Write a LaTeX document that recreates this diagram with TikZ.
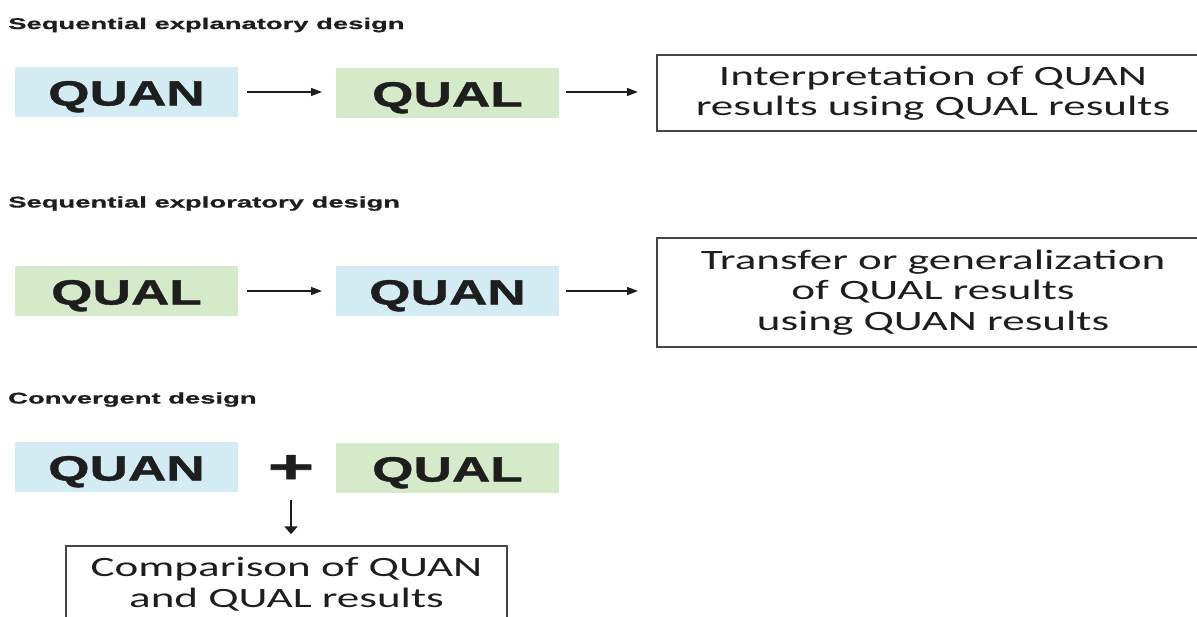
\documentclass[tikz,border=0pt]{standalone}
\usepackage{fontspec}
\setmainfont{Liberation Sans}
% wide faces: headings, phase tags, plus sign and outcome texts
\newfontfamily\headfont{Liberation Sans Bold}[FakeStretch=1.77, FakeBold=0.8]
\newfontfamily\tagfont{Liberation Sans Bold}[FakeStretch=1.52, FakeBold=1.2]
\newfontfamily\plusfont{Liberation Sans Bold}[FakeStretch=1.7, FakeBold=1.2]
\newfontfamily\notefont{Carlito}[FakeStretch=1.61]
\usetikzlibrary{arrows.meta}
\definecolor{quanblue}{HTML}{D3ECF4}
\definecolor{qualgreen}{HTML}{D4EAC8}
\definecolor{inkdark}{HTML}{1E1E1E}
\definecolor{framegray}{HTML}{454545}
\tikzset{
  heading/.style={anchor=base west, inner sep=0pt, font=\headfont\fontsize{15.5}{18}\selectfont, text=inkdark},
  phase/.style={minimum width=223pt, minimum height=50pt, inner sep=0pt, text=inkdark,
    text height=29pt, text depth=2pt,
    font=\tagfont\fontsize{35}{40}\selectfont},
  quan/.style={phase, fill=quanblue},
  qual/.style={phase, fill=qualgreen},
  outcome/.style={draw=framegray, line width=1.4pt, inner sep=0pt, align=center, text=inkdark,
    font=\notefont\fontsize{28}{30.5}\selectfont},
  flow/.style={-{Triangle[length=11pt,width=8pt]}, line width=1.5pt, draw=inkdark},
  drop/.style={-{Triangle[length=8pt,width=13pt]}, line width=2.2pt, draw=inkdark},
  plus/.style={inner sep=0pt, text=inkdark, font=\plusfont\fontsize{47}{47}\selectfont}
}
\begin{document}
\begin{tikzpicture}[x=1pt,y=-1pt]
\useasboundingbox (0,0) rectangle (1197,616);
\clip (0,0) rectangle (1197,616);

% Sequential explanatory design
\node[heading] (h1) at (8,29) {Sequential explanatory design};
\node[quan] (a1) at (126.5,92) {QUAN};
\node[qual] (a2) at (447.5,93) {QUAL};
\node[outcome, minimum width=552pt, minimum height=76pt] (a3) at (933,93)
  {Interpretation of QUAN\\results using QUAL results};
\coordinate (a1e) at (247,92);
\coordinate (a2s) at (322,92);
\coordinate (a2e) at (566,92);
\coordinate (a3s) at (638,92);
\draw[flow] (a1e) -- (a2s);
\draw[flow] (a2e) -- (a3s);

% Sequential exploratory design
\node[heading] (h2) at (8,207.5) {Sequential exploratory design};
\node[qual] (b1) at (126.5,291) {QUAL};
\node[quan] (b2) at (447.5,291) {QUAN};
\node[outcome, minimum width=552pt, minimum height=109pt] (b3) at (933,292.5)
  {Transfer or generalization\\of QUAL results\\using QUAN results};
\coordinate (b1e) at (247,291);
\coordinate (b2s) at (322,291);
\coordinate (b2e) at (566,291);
\coordinate (b3s) at (638,291);
\draw[flow] (b1e) -- (b2s);
\draw[flow] (b2e) -- (b3s);

% Convergent design
\node[heading] (h3) at (8,403.5) {Convergent design};
\node[quan] (c1) at (126.5,467) {QUAN};
\node[qual] (c2) at (447.5,468) {QUAL};
\node[plus] (cp) at (291,469) {+};
\node[outcome, minimum width=441pt, minimum height=76pt] (c3) at (286.5,584)
  {Comparison of QUAN\\and QUAL results};
\coordinate (cps) at (291,500);
\draw[drop, shorten >=11pt] (cps) -- (c3.north -| cps);
\end{tikzpicture}
\end{document}
